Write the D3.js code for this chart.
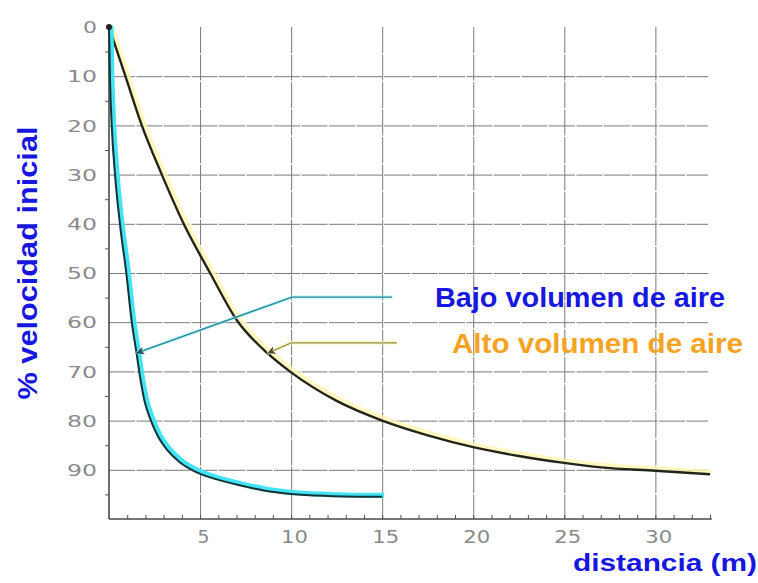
<!DOCTYPE html>
<html>
<head>
<meta charset="utf-8">
<script src="https://cdn.jsdelivr.net/npm/d3@7"></script>
<style>
  body { margin: 0; background: #fff; }
  svg { display: block; }
  .tick text { fill: #8a8a8a; font-family: "DejaVu Sans", sans-serif; }
  .title { font-family: "Liberation Sans", Arial, sans-serif; font-weight: bold; }
</style>
</head>
<body>
<div id="chart"></div>
<script>
// data (distance m, % of initial velocity lost)
var bajo = [[0, 0], [0.05, 10], [0.15, 20], [0.33, 30], [0.6, 40], [0.95, 50], [1.25, 60],
  [1.5, 66], [1.7, 71], [1.95, 76], [2.3, 80], [2.7, 83.3], [3.2, 86], [3.9, 88.5],
  [4.7, 90.3], [5.6, 91.6], [7, 93], [8.5, 94.2], [10, 94.9], [12, 95.3], [15, 95.5]];

var alto = [[0, 0], [0.9, 10], [1.8, 20], [2.9, 30], [4.1, 40], [5.55, 50], [7, 59.5],
  [8.7, 66.3], [10, 70.2], [12.5, 76], [15, 80], [17.5, 83], [20, 85.4], [22.5, 87.2],
  [25, 88.6], [27, 89.5], [30, 90.2], [33, 90.9]];

// leader lines from the labels to the curves
var bajoLeader = [[15.55, 54.9], [10.05, 54.9], [1.5, 66.3]];
var altoLeader = [[15.8, 64.2], [10, 64.2], [8.7, 66.3]];

var xTicks = [5, 10, 15, 20, 25, 30];
var yTicks = [0, 10, 20, 30, 40, 50, 60, 70, 80, 90];
var xMinor = d3.range(1, 34);
var yMinor = [5, 15, 25, 35, 45, 55, 65, 75, 85, 95];

var svgWidth = 758;
var svgHeight = 583;

var margins = { top: 27, left: 109, right: 48, bottom: 64 };
var width = svgWidth - margins.left - margins.right;
var height = svgHeight - margins.top - margins.bottom;

var svg = d3.select('#chart')
  .append('svg')
  .attr('width', svgWidth)
  .attr('height', svgHeight);

var defs = svg.append('defs');
defs.append('marker')
  .attr('id', 'arrowB')
  .attr('viewBox', '0 0 10 10')
  .attr('refX', 10).attr('refY', 5)
  .attr('markerWidth', 13).attr('markerHeight', 8)
  .attr('markerUnits', 'userSpaceOnUse')
  .attr('orient', 'auto')
  .append('path').attr('d', 'M0,0L10,5L0,10L3,5Z').attr('fill', '#2b4b55');
defs.append('marker')
  .attr('id', 'arrowA')
  .attr('viewBox', '0 0 10 10')
  .attr('refX', 10).attr('refY', 5)
  .attr('markerWidth', 13).attr('markerHeight', 8)
  .attr('markerUnits', 'userSpaceOnUse')
  .attr('orient', 'auto')
  .append('path').attr('d', 'M0,0L10,5L0,10L3,5Z').attr('fill', '#4a4a3a');

var chartGroup = svg.append('g')
  .attr('transform', `translate(${margins.left}, ${margins.top})`);

var x = d3.scaleLinear().domain([0, 33]).range([0, width]);
var y = d3.scaleLinear().domain([0, 100]).range([0, height]);

// grid
chartGroup.append('g')
  .call(d3.axisLeft(y).tickValues(yTicks.slice(1)).tickSize(-x(32.9)).tickFormat(''))
  .call(g => g.select('.domain').remove())
  .selectAll('line')
  .attr('stroke', '#7a7a7a').attr('stroke-width', 1).attr('stroke-dasharray', '26,1.5');

chartGroup.append('g')
  .attr('transform', `translate(0, ${height})`)
  .call(d3.axisBottom(x).tickValues(xTicks).tickSize(height).tickFormat(''))
  .call(g => g.select('.domain').remove())
  .selectAll('line')
  .attr('transform', `translate(0, ${-height})`)
  .attr('y1', 0).attr('y2', height)
  .attr('stroke', '#7a7a7a').attr('stroke-width', 1).attr('stroke-dasharray', '26,1.5');

// minor ticks
chartGroup.append('g')
  .call(d3.axisLeft(y).tickValues(yMinor).tickSize(4).tickFormat(''))
  .call(g => g.select('.domain').remove())
  .selectAll('line').attr('stroke', '#555');

chartGroup.append('g')
  .attr('transform', `translate(0, ${height})`)
  .call(d3.axisBottom(x).tickValues(xMinor).tickSize(-4).tickFormat(''))
  .call(g => g.select('.domain').remove())
  .selectAll('line').attr('stroke', '#555');

// axes lines
chartGroup.append('line')
  .attr('x1', 0).attr('x2', 0).attr('y1', 0).attr('y2', height)
  .attr('stroke', '#4a4a4a').attr('stroke-width', 1.6);
chartGroup.append('line')
  .attr('x1', 0).attr('x2', x(33.1)).attr('y1', height).attr('y2', height)
  .attr('stroke', '#4a4a4a').attr('stroke-width', 1.6);

// tick labels
chartGroup.append('g')
  .call(d3.axisLeft(y).tickValues(yTicks).tickSize(0).tickPadding(12))
  .call(g => g.select('.domain').remove())
  .selectAll('text')
  .attr('dy', '0.36em')
  .style('font-size', '16px')
  .attr('textLength', d => String(d).length === 1 ? 14 : 30)
  .attr('lengthAdjust', 'spacingAndGlyphs');

chartGroup.append('g')
  .attr('transform', `translate(3, ${height})`)
  .call(d3.axisBottom(x).tickValues(xTicks).tickSize(0).tickPadding(12))
  .call(g => g.select('.domain').remove())
  .selectAll('text')
  .style('font-size', '17px')
  .attr('textLength', d => String(d).length === 1 ? 12 : 27)
  .attr('lengthAdjust', 'spacingAndGlyphs');

// curves
var line = d3.line()
  .x(d => x(d[0]))
  .y(d => y(d[1]))
  .curve(d3.curveMonotoneX);

chartGroup.append('path')
  .datum(alto)
  .attr('d', line)
  .attr('transform', 'translate(2, -2)')
  .attr('fill', 'none')
  .attr('stroke', '#fff6b0')
  .attr('stroke-width', 5)
  .attr('opacity', 0.8);
chartGroup.append('path')
  .datum(alto)
  .attr('d', line)
  .attr('fill', 'none')
  .attr('stroke', '#23251a')
  .attr('stroke-width', 2.4);

chartGroup.append('path')
  .datum(bajo)
  .attr('d', line)
  .attr('transform', 'translate(2, -1.5)')
  .attr('fill', 'none')
  .attr('stroke', '#42e3f3')
  .attr('stroke-width', 5);
chartGroup.append('path')
  .datum(bajo)
  .attr('d', line)
  .attr('fill', 'none')
  .attr('stroke', '#14343a')
  .attr('stroke-width', 2);

chartGroup.append('circle')
  .attr('cx', x(0)).attr('cy', y(0)).attr('r', 3)
  .attr('fill', '#222');

// leader lines
var leader = d3.line().x(d => x(d[0])).y(d => y(d[1]));

chartGroup.append('path')
  .datum(bajoLeader)
  .attr('d', leader)
  .attr('fill', 'none')
  .attr('stroke', '#9eeef6')
  .attr('stroke-width', 3.5)
  .attr('opacity', 0.6);
chartGroup.append('path')
  .datum(bajoLeader)
  .attr('d', leader)
  .attr('fill', 'none')
  .attr('stroke', '#1f8796')
  .attr('stroke-width', 1.4)
  .attr('marker-end', 'url(#arrowB)');

chartGroup.append('path')
  .datum(altoLeader)
  .attr('d', leader)
  .attr('fill', 'none')
  .attr('stroke', '#fff5b8')
  .attr('stroke-width', 3.5);
chartGroup.append('path')
  .datum(altoLeader)
  .attr('d', leader)
  .attr('fill', 'none')
  .attr('stroke', '#8f8d5c')
  .attr('stroke-width', 1.2)
  .attr('marker-end', 'url(#arrowA)');

// texts
svg.append('text')
  .attr('class', 'title')
  .attr('x', 435).attr('y', 307)
  .attr('textLength', 290).attr('lengthAdjust', 'spacingAndGlyphs')
  .style('font-size', '27px')
  .style('fill', '#1717e0')
  .text('Bajo volumen de aire');

svg.append('text')
  .attr('class', 'title')
  .attr('x', 452).attr('y', 353)
  .attr('textLength', 291).attr('lengthAdjust', 'spacingAndGlyphs')
  .style('font-size', '27px')
  .style('fill', '#f6a323')
  .text('Alto volumen de aire');

svg.append('text')
  .attr('class', 'title')
  .attr('transform', 'translate(37, 263) rotate(-90)')
  .attr('text-anchor', 'middle')
  .attr('textLength', 273).attr('lengthAdjust', 'spacingAndGlyphs')
  .style('font-size', '27px')
  .style('fill', '#1717e0')
  .text('% velocidad inicial');

svg.append('text')
  .attr('class', 'title')
  .attr('x', 573).attr('y', 571)
  .attr('textLength', 184).attr('lengthAdjust', 'spacingAndGlyphs')
  .style('font-size', '24px')
  .style('fill', '#1717e0')
  .text('distancia (m)');
</script>
</body>
</html>
